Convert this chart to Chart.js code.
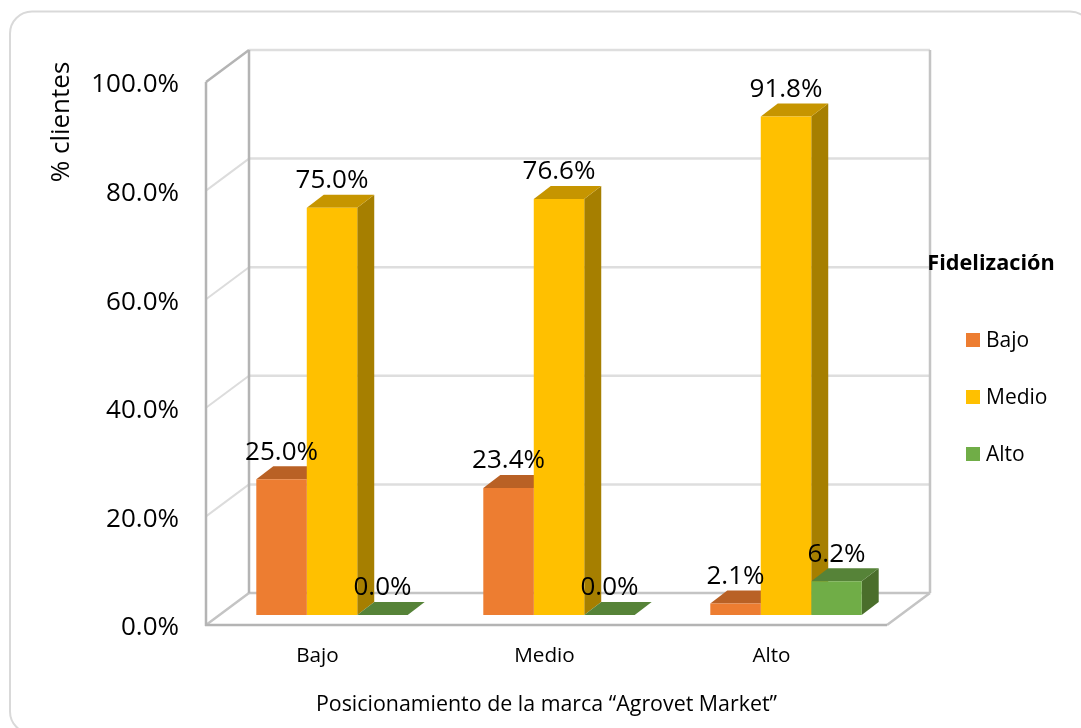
<!DOCTYPE html>
<html lang="es">

<head>
    <meta charset="UTF-8">
    <title>Fidelización</title>
    <script src="https://cdn.jsdelivr.net/npm/chart.js@4"></script>
    <style>
        html,
        body {
            margin: 0;
            background: #fff;
            overflow: hidden;
        }

        #wrap {
            width: 1081px;
            height: 728px;
        }
    </style>
</head>

<body>
    <div id="wrap"><canvas id="fidelizacion"></canvas></div>
    <script>
        const categories = ["Bajo", "Medio", "Alto"];
        const seriesNames = ["Bajo", "Medio", "Alto"];
        const bajo = [25.0, 23.4, 2.1];
        const medio = [75.0, 76.6, 91.8];
        const alto = [0.0, 0.0, 6.2];
        const yTicks = [0, 20, 40, 60, 80, 100];

        const frontColors = ["#ED7D31", "#FFC000", "#70AD47"];
        const topColors = ["#B96125", "#C69500", "#568338"];
        const sideColors = ["#9E5424", "#A67F00", "#4A6E2B"];

        const FONT = "'Open Sans', 'Noto Sans', sans-serif";
        // depth of the walls and of the bars, and how far the bars sit behind the front plane
        const WALL = { dx: 43, dy: -32 };
        const BAR = { dx: 17, dy: -13 };
        const SHIFT = { x: 12.5, y: -10 };

        function line(ctx, x1, y1, x2, y2, color, width) {
            ctx.strokeStyle = color;
            ctx.lineWidth = width;
            ctx.beginPath();
            ctx.moveTo(x1, y1);
            ctx.lineTo(x2, y2);
            ctx.stroke();
        }

        function poly(ctx, pts, color) {
            ctx.fillStyle = color;
            ctx.beginPath();
            pts.forEach((p, i) => i ? ctx.lineTo(p[0], p[1]) : ctx.moveTo(p[0], p[1]));
            ctx.closePath();
            ctx.fill();
        }

        const bars3d = {
            id: "bars3d",
            beforeDraw(chart) {
                const ctx = chart.ctx;
                ctx.save();
                ctx.strokeStyle = "#d9d9d9";
                ctx.lineWidth = 2;
                ctx.beginPath();
                ctx.roundRect(10, 11.5, 1082, 722, 22);
                ctx.stroke();
                ctx.restore();
            },
            beforeDatasetsDraw(chart) {
                const ctx = chart.ctx;
                const y = chart.scales.y;
                const { left, right } = chart.chartArea;
                ctx.save();
                // grid lines on the back wall and the left wall
                yTicks.slice(1, -1).forEach(v => {
                    const py = y.getPixelForValue(v);
                    line(ctx, left, py, left + WALL.dx, py + WALL.dy, "#dcdcdc", 2);
                    line(ctx, left + WALL.dx, py + WALL.dy, right + WALL.dx, py + WALL.dy, "#dedede", 2.5);
                });
                const y0 = y.getPixelForValue(0);
                const y100 = y.getPixelForValue(100);
                line(ctx, left + WALL.dx, y100 + WALL.dy, right + WALL.dx, y100 + WALL.dy, "#dedede", 2.5);
                line(ctx, left + WALL.dx, y0 + WALL.dy, right + WALL.dx, y0 + WALL.dy, "#c4c4c4", 2.5);
                line(ctx, left, y0, left + WALL.dx, y0 + WALL.dy, "#c4c4c4", 2.5);
                line(ctx, right, y0, right + WALL.dx, y0 + WALL.dy, "#c4c4c4", 2.5);
                line(ctx, right + WALL.dx, y0 + WALL.dy, right + WALL.dx, y100 + WALL.dy, "#c4c4c4", 2.5);
                line(ctx, left, y100, left + WALL.dx, y100 + WALL.dy, "#b4b4b4", 2.5);
                line(ctx, left + WALL.dx, y0 + WALL.dy, left + WALL.dx, y100 + WALL.dy, "#b4b4b4", 2.5);
                line(ctx, left, y0 + 1, left, y100, "#b4b4b4", 2.5);
                line(ctx, left - 1, y0, right, y0, "#b4b4b4", 2.5);

                // side and top faces, left to right, under the front faces
                ctx.translate(SHIFT.x, SHIFT.y);
                chart.data.datasets.forEach((ds, i) => {
                    chart.getDatasetMeta(i).data.forEach(bar => {
                        const l = bar.x - bar.width / 2;
                        const r = bar.x + bar.width / 2;
                        const t = bar.y;
                        poly(ctx, [[r, t], [r + BAR.dx, t + BAR.dy], [r + BAR.dx, bar.base + BAR.dy], [r, bar.base]], sideColors[i]);
                        poly(ctx, [[l, t], [l + BAR.dx, t + BAR.dy], [r + BAR.dx, t + BAR.dy], [r, t]], topColors[i]);
                    });
                });
                ctx.restore();
                ctx.save();
                ctx.translate(SHIFT.x, SHIFT.y);
            },
            afterDatasetsDraw(chart) {
                const ctx = chart.ctx;
                ctx.restore();
                ctx.save();
                ctx.fillStyle = "#000";
                ctx.font = "26px " + FONT;
                ctx.textAlign = "center";
                ctx.textBaseline = "middle";
                chart.data.datasets.forEach((ds, i) => {
                    chart.getDatasetMeta(i).data.forEach((bar, j) => {
                        ctx.fillText(ds.data[j].toFixed(1) + "%", bar.x + SHIFT.x, bar.y + SHIFT.y - 27);
                    });
                });
                // y axis title
                ctx.save();
                ctx.translate(62, 122);
                ctx.rotate(-Math.PI / 2);
                ctx.font = "26px " + FONT;
                ctx.fillText("% clientes", 0, 0);
                ctx.restore();
                // legend
                ctx.font = "bold 21.7px " + FONT;
                ctx.fillText("Fidelización", 991, 264);
                ctx.textAlign = "left";
                ctx.font = "21px " + FONT;
                seriesNames.forEach((name, i) => {
                    const ly = 340 + i * 57;
                    ctx.fillStyle = frontColors[i];
                    ctx.fillRect(966, ly - 7, 14, 14);
                    ctx.fillStyle = "#000";
                    ctx.fillText(name, 986, ly + 1);
                });
                ctx.restore();
            }
        };

        new Chart(document.getElementById("fidelizacion"), {
            type: "bar",
            data: {
                labels: categories,
                datasets: [
                    { label: seriesNames[0], data: bajo, backgroundColor: frontColors[0] },
                    { label: seriesNames[1], data: medio, backgroundColor: frontColors[1] },
                    { label: seriesNames[2], data: alto, backgroundColor: frontColors[2] }
                ]
            },
            options: {
                responsive: true,
                maintainAspectRatio: false,
                animation: false,
                layout: { padding: { top: 82, right: 194 } },
                datasets: { bar: { barPercentage: 1, categoryPercentage: 0.667 } },
                plugins: { legend: { display: false }, tooltip: { enabled: false } },
                scales: {
                    x: {
                        grid: { display: false, drawTicks: false },
                        border: { display: false },
                        afterFit(scale) { scale.height = 103; },
                        ticks: { color: "#000", padding: 19, labelOffset: -2, font: { family: FONT, size: 20.7 } },
                        title: {
                            display: true,
                            text: "Posicionamiento de la marca “Agrovet Market”",
                            color: "#000",
                            padding: { top: 0, bottom: 10 },
                            font: { family: FONT, size: 21.4 }
                        }
                    },
                    y: {
                        min: 0,
                        max: 100,
                        grid: { display: false, drawTicks: false },
                        border: { display: false },
                        afterFit(scale) { scale.width = 206; },
                        afterBuildTicks(scale) { scale.ticks = yTicks.map(v => ({ value: v })); },
                        ticks: {
                            color: "#000",
                            padding: 27,
                            labelOffset: 3,
                            font: { family: FONT, size: 26 },
                            callback: v => v.toFixed(1) + "%"
                        }
                    }
                }
            },
            plugins: [bars3d]
        });
    </script>
</body>

</html>
